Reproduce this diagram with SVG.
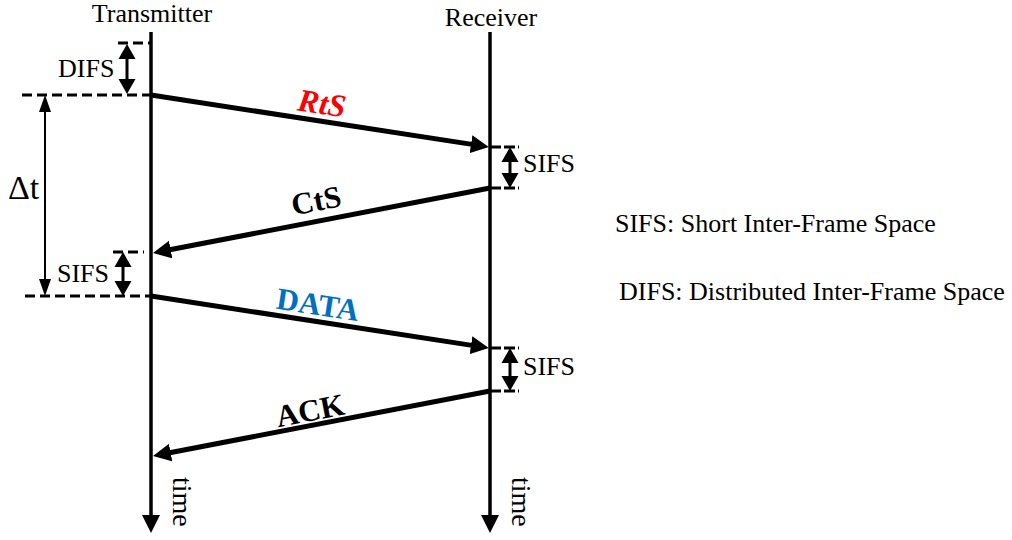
<svg xmlns="http://www.w3.org/2000/svg" width="1012" height="540" viewBox="0 0 1012 540">
<style>
text{font-family:"Liberation Serif","Times New Roman",serif;fill:#000}
.lbl{font-size:26px}
.big{font-size:31px;font-weight:bold;text-anchor:middle}
.life{stroke:#000;stroke-width:3.5;fill:none}
.msg{stroke:#000;stroke-width:5;fill:none}
.dash{stroke:#000;stroke-width:3;stroke-dasharray:10 5;fill:none}
.dbl{stroke:#000;stroke-width:3;fill:none}
.thin{stroke:#000;stroke-width:2;fill:none}
</style>
<defs>
<marker id="ah" markerUnits="userSpaceOnUse" markerWidth="20" markerHeight="20" viewBox="0 -10 20 20" refX="1" refY="0" orient="auto"><path d="M0,-9 L18,0 L0,9 z" fill="#000"/></marker>
<marker id="dh" markerUnits="userSpaceOnUse" markerWidth="20" markerHeight="20" viewBox="0 -10 20 20" refX="1" refY="0" orient="auto-start-reverse"><path d="M0,-8.5 L15,0 L0,8.5 z" fill="#000"/></marker>
<marker id="th" markerUnits="userSpaceOnUse" markerWidth="20" markerHeight="20" viewBox="0 -10 20 20" refX="1" refY="0" orient="auto-start-reverse"><path d="M0,-6 L17,0 L0,6 z" fill="#000"/></marker>
</defs>
<g id="transmitter">
<text class="lbl" x="152" y="22" text-anchor="middle">Transmitter</text>
<path class="life" d="M151,32 V516" marker-end="url(#ah)"/>
<text class="lbl" style="font-size:28px" transform="translate(173,477) rotate(90)">time</text>
</g>
<g id="receiver">
<text class="lbl" x="491" y="26" text-anchor="middle">Receiver</text>
<path class="life" d="M490,32 V516" marker-end="url(#ah)"/>
<text class="lbl" style="font-size:28px" transform="translate(512,477) rotate(90)">time</text>
</g>
<g id="difs">
<path class="dash" d="M118,43 H150"/>
<path class="dash" d="M22,95 H151"/>
<path class="dbl" d="M127,58 V80" marker-start="url(#dh)" marker-end="url(#dh)"/>
<text class="lbl" x="58" y="77">DIFS</text>
</g>
<g id="delta-t">
<path class="thin" d="M45,111 V280" marker-start="url(#th)" marker-end="url(#th)"/>
<text x="8" y="199" style="font-size:34px">Δt</text>
</g>
<g id="sifs-tx">
<path class="dash" d="M113,252 H144"/>
<path class="dash" d="M25,296 H151"/>
<path class="dbl" d="M123,266 V282" marker-start="url(#dh)" marker-end="url(#dh)"/>
<text class="lbl" x="57" y="282">SIFS</text>
</g>
<g id="sifs-rx1">
<path class="dash" d="M490,147 H519" style="stroke-dasharray:11 3"/>
<path class="dash" d="M490,188 H519" style="stroke-dasharray:11 3"/>
<path class="dbl" d="M510,161 V174" marker-start="url(#dh)" marker-end="url(#dh)"/>
<text class="lbl" x="523" y="172">SIFS</text>
</g>
<g id="sifs-rx2">
<path class="dash" d="M490,348 H519" style="stroke-dasharray:11 3"/>
<path class="dash" d="M490,391 H519" style="stroke-dasharray:11 3"/>
<path class="dbl" d="M510,362 V377" marker-start="url(#dh)" marker-end="url(#dh)"/>
<text class="lbl" x="523" y="375">SIFS</text>
</g>
<g id="connectors">
<path class="msg" d="M151,95 L472,144.4" marker-end="url(#ah)"/>
<path class="msg" d="M490,188 L169.7,249.8" marker-end="url(#ah)"/>
<path class="msg" d="M151,296 L472,345.4" marker-end="url(#ah)"/>
<path class="msg" d="M490,391 L169.7,452.8" marker-end="url(#ah)"/>
</g>
<g id="labels">
<text class="big" style="fill:#ff0000;font-style:italic;font-size:32px" transform="translate(322,103) rotate(8.7)" y="11">RtS</text>
<text class="big" transform="translate(316,200) rotate(-10.9)" y="11">CtS</text>
<text class="big" style="fill:#0070c0" transform="translate(318,304) rotate(8.7)" y="11">DATA</text>
<text class="big" transform="translate(310,410) rotate(-10.9)" y="11">ACK</text>
</g>
<g id="legend">
<text class="lbl" x="615" y="232">SIFS: Short Inter-Frame Space</text>
<text class="lbl" x="619" y="300">DIFS: Distributed Inter-Frame Space</text>
</g>
</svg>
